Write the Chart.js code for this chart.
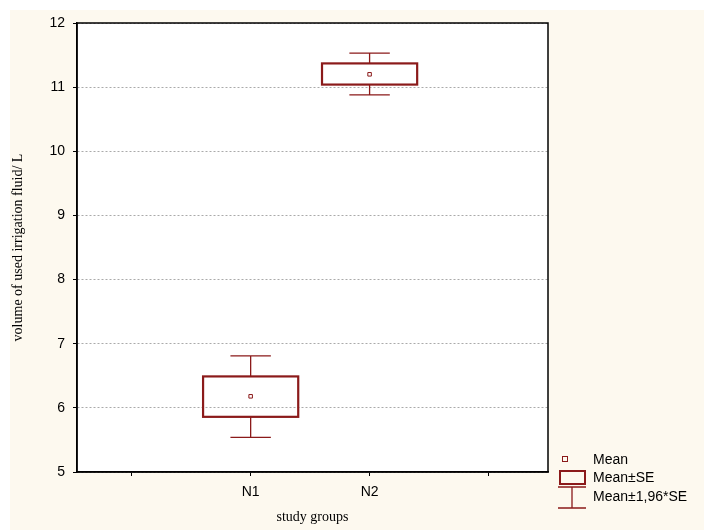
<!DOCTYPE html>
<html>
<head>
<meta charset="utf-8">
<script src="https://cdn.jsdelivr.net/npm/chart.js@4"></script>
<style>body{margin:0;background:#fff}</style>
</head>
<body>
<canvas id="c" width="704" height="530" style="display:block;width:704px;height:530px"></canvas>
<script>
var groups = ['N1', 'N2'];
var groupX = [1, 2];
var means = [6.18, 11.20];
var seLow = [5.86, 11.04];
var seHigh = [6.49, 11.37];
var ciLow = [5.54, 10.88];
var ciHigh = [6.81, 11.53];
var red = '#8b1a1a';

var boxPlugin = {
  id: 'boxes',
  beforeDraw: function (chart) {
    var ctx = chart.ctx;
    ctx.save();
    ctx.fillStyle = '#fdf9ef';
    ctx.fillRect(10, 10, 694, 520);
    var a = chart.chartArea;
    ctx.fillStyle = '#fff';
    ctx.fillRect(a.left, a.top, a.right - a.left, a.bottom - a.top);
    ctx.restore();
  },
  afterDatasetsDraw: function (chart) {
    var ctx = chart.ctx, xs = chart.scales.x, ys = chart.scales.y;
    ctx.save();
    ctx.strokeStyle = red;
    for (var i = 0; i < groups.length; i++) {
      var cx = xs.getPixelForValue(groupX[i]);
      var hw = xs.getPixelForValue(0.4) - xs.getPixelForValue(0);
      var ww = xs.getPixelForValue(0.34) - xs.getPixelForValue(0);
      ctx.lineWidth = 1.3;
      ctx.beginPath();
      ctx.moveTo(cx, ys.getPixelForValue(seHigh[i])); ctx.lineTo(cx, ys.getPixelForValue(ciHigh[i]));
      ctx.moveTo(cx, ys.getPixelForValue(seLow[i])); ctx.lineTo(cx, ys.getPixelForValue(ciLow[i]));
      ctx.moveTo(cx - ww / 2, ys.getPixelForValue(ciHigh[i])); ctx.lineTo(cx + ww / 2, ys.getPixelForValue(ciHigh[i]));
      ctx.moveTo(cx - ww / 2, ys.getPixelForValue(ciLow[i])); ctx.lineTo(cx + ww / 2, ys.getPixelForValue(ciLow[i]));
      ctx.stroke();
      ctx.lineWidth = 2.2;
      var t = ys.getPixelForValue(seHigh[i]), b = ys.getPixelForValue(seLow[i]);
      ctx.strokeRect(cx - hw, t, 2 * hw, b - t);
    }
    // legend
    ctx.fillStyle = '#000';
    ctx.font = '14px "Liberation Sans", Arial, sans-serif';
    ctx.textBaseline = 'middle';
    ctx.lineWidth = 1;
    ctx.strokeRect(562.5, 456.5, 5, 5);
    ctx.fillText('Mean', 593, 460);
    ctx.lineWidth = 2;
    ctx.strokeRect(560, 471, 25, 13);
    ctx.fillText('Mean±SE', 593, 478);
    ctx.lineWidth = 1.3;
    ctx.beginPath();
    ctx.moveTo(558, 487); ctx.lineTo(586, 487);
    ctx.moveTo(572, 487); ctx.lineTo(572, 508);
    ctx.moveTo(558, 508); ctx.lineTo(586, 508);
    ctx.stroke();
    ctx.fillText('Mean±1,96*SE', 593, 497);
    ctx.restore();
  }
};

var framePlugin = {
  id: 'frame',
  afterDraw: function (chart) {
    var a = chart.chartArea, ctx = chart.ctx;
    ctx.save(); ctx.strokeStyle = '#000'; ctx.lineWidth = 1.5;
    ctx.strokeRect(a.left, a.top, a.right - a.left, a.bottom - a.top);
    ctx.restore();
  }
};

new Chart(document.getElementById('c'), {
  type: 'scatter',
  data: {
    datasets: [{
      data: groupX.map(function (x, i) { return { x: x, y: means[i] }; }),
      pointStyle: 'rect',
      radius: 2.5,
      borderWidth: 1,
      borderColor: red,
      backgroundColor: '#fff'
    }]
  },
  options: {
    responsive: false,
    animation: false,
    layout: { padding: { top: 23, right: 156, left: 6, bottom: 0 } },
    plugins: { legend: { display: false }, tooltip: { enabled: false } },
    scales: {
      x: {
        type: 'linear', min: -0.46, max: 3.5,
        afterBuildTicks: function (s) { s.ticks = [0, 1, 2, 3].map(function (v) { return { value: v }; }); },
        afterFit: function (s) { s.height = 58; },
        border: { color: '#000', width: 1.5 },
        grid: { display: true, drawOnChartArea: false, drawTicks: true, tickLength: 4, tickColor: '#000' },
        ticks: {
          color: '#000', font: { family: '"Liberation Sans", Arial', size: 14 }, padding: 8,
          callback: function (v) { var k = groupX.indexOf(v); return k >= 0 ? groups[k] : ''; }
        },
        title: { display: true, text: 'study groups', color: '#000', font: { family: '"Liberation Serif", "Times New Roman", serif', size: 14 }, padding: { top: 2 } }
      },
      y: {
        min: 5, max: 12,
        afterFit: function (s) { s.width = 71; },
        border: { color: '#000', width: 1.5, dash: [2, 2] },
        grid: { color: '#aaa', lineWidth: 1, tickLength: 4, tickColor: '#000', tickBorderDash: [] },
        ticks: { stepSize: 1, color: '#000', font: { family: '"Liberation Sans", Arial', size: 14 }, padding: 8 },
        title: { display: true, text: 'volume of used irrigation fluid/ L', color: '#000', font: { family: '"Liberation Serif", "Times New Roman", serif', size: 14 }, padding: { bottom: 0 } }
      }
    }
  },
  plugins: [boxPlugin, framePlugin]
});
</script>
</body>
</html>
